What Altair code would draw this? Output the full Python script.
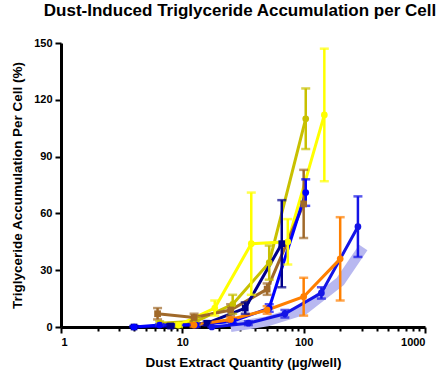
import altair as alt
import pandas as pd

# ---- data ----
names = ["olive", "yellow", "brown", "navy", "blue", "blue2", "orange"]
colors = ["#C8C000", "#FFFF00", "#A0692A", "#00008B", "#0000FF", "#1414E6", "#FF7F00"]
shapes = ["circle", "circle", "square", "square", "circle", "circle", "circle"]

olive_x = [6.5, 13, 26, 52, 104]
olive_y = [2, 3, 12, 34, 110]
olive_e = [1, 2, 5, 9, 16]

yellow_x = [9.3, 18.5, 37, 74, 148]
yellow_y = [1, 10, 44, 45, 112]
yellow_e = [1, 4, 27, 12, 35]

brown_x = [6.25, 12.5, 25, 50, 100]
brown_y = [7, 5, 9, 20, 65]
brown_e = [3, 2, 3, 3, 18]

navy_x = [4, 8, 16, 33, 66]
navy_y = [0, 0.5, 2, 10, 44]
navy_e = [0.5, 1, 1, 3, 23]

blue_x = [4, 6.5, 13, 26, 52, 104]
blue_y = [0, 1, 1, 3, 10, 71]
blue_e = [0.5, 0.5, 1, 1, 2, 7]

blue2_x = [17.5, 35, 70, 140, 280]
blue2_y = [0, 2, 7, 18, 53]
blue2_e = [0.5, 1, 2, 3, 16]

orange_x = [12.5, 25, 50, 100, 200]
orange_y = [1, 4, 9, 16, 36]
orange_e = [1, 1, 2, 10, 22]

lav_x = [25, 50, 100, 200, 310]
lav_y = [0, 3, 9, 24, 42]

x_major = [1, 10, 100, 1000]
x_minor = [2, 3, 4, 5, 6, 7, 8, 9, 20, 30, 40, 50, 60, 70, 80, 90,
           200, 300, 400, 500, 600, 700, 800, 900]
y_ticks = [0, 30, 60, 90, 120, 150]

series = {
    "olive": (olive_x, olive_y, olive_e),
    "yellow": (yellow_x, yellow_y, yellow_e),
    "brown": (brown_x, brown_y, brown_e),
    "navy": (navy_x, navy_y, navy_e),
    "blue": (blue_x, blue_y, blue_e),
    "blue2": (blue2_x, blue2_y, blue2_e),
    "orange": (orange_x, orange_y, orange_e),
}

rows = []
for i, n in enumerate(names):
    xs, ys, es = series[n]
    for k, (a, b, e) in enumerate(zip(xs, ys, es)):
        rows.append({"series": n, "order": i, "k": k, "x": a, "y": b,
                     "lo": max(0, b - e), "hi": b + e, "shape": shapes[i]})
df = pd.DataFrame(rows)
lav = pd.DataFrame({"x": lav_x, "y": lav_y})

FONT = "Liberation Sans"

xscale = alt.Scale(type="log", domain=[1, 1000], nice=False)
yscale = alt.Scale(domain=[0, 150], nice=False)
cscale = alt.Scale(domain=names, range=colors)

is_major = "indexof([1,10,100,1000], datum.value) >= 0"

xaxis = alt.Axis(
    values=x_major + x_minor,
    labelExpr=f"{is_major} ? datum.label : ''",
    format="d",
    tickSize=alt.condition(is_major, alt.value(6), alt.value(4)),
    title="Dust Extract Quantity (µg/well)",
    titlePadding=8,
    labelPadding=3,
    grid=False,
)
yaxis = alt.Axis(values=y_ticks, title="Triglyceride Accumulation Per Cell (%)",
                 tickSize=6, titlePadding=9, labelPadding=3, grid=False)

base = alt.Chart(df)

lav_line = alt.Chart(lav).mark_line(strokeWidth=10, color="#B8B8F0", strokeCap="butt").encode(
    x=alt.X("x:Q", scale=xscale, axis=xaxis),
    y=alt.Y("y:Q", scale=yscale, axis=yaxis),
)

lines = base.mark_line(strokeWidth=3).encode(
    x=alt.X("x:Q", scale=xscale),
    y=alt.Y("y:Q", scale=yscale),
    color=alt.Color("series:N", scale=cscale, legend=None),
    detail="series:N",
    order="k:Q",
)

rules = base.mark_rule(strokeWidth=2.5).encode(
    x="x:Q",
    y="lo:Q",
    y2="hi:Q",
    color=alt.Color("series:N", scale=cscale, legend=None),
)

cap_lo = base.mark_tick(orient="horizontal", size=9, thickness=2.5).encode(
    x="x:Q", y="lo:Q",
    color=alt.Color("series:N", scale=cscale, legend=None),
)
cap_hi = base.mark_tick(orient="horizontal", size=9, thickness=2.5).encode(
    x="x:Q", y="hi:Q",
    color=alt.Color("series:N", scale=cscale, legend=None),
)

points = base.mark_point(filled=True, size=45, opacity=1).encode(
    x="x:Q", y="y:Q",
    color=alt.Color("series:N", scale=cscale, legend=None),
    shape=alt.Shape("shape:N", scale=None, legend=None),
)

chart = alt.layer(lav_line, lines, rules, cap_lo, cap_hi, points).properties(
    width=364,
    height=284,
    background="white",
    padding={"left": 61, "top": 43, "right": 17, "bottom": 47},
    autosize=alt.AutoSizeParams(type="none"),
    title=alt.TitleParams(
        "Dust-Induced Triglyceride Accumulation per Cell",
        font=FONT, fontSize=17, fontWeight="bold", color="black",
        anchor="middle", frame="group", offset=17, dx=-3,
    ),
).configure_view(stroke=None).configure_axis(
    domainColor="black", domainWidth=3, tickColor="black", tickWidth=2,
    labelFont=FONT, labelFontSize=11, labelFontWeight="bold", labelColor="black",
    titleFont=FONT, titleFontSize=13.5, titleFontWeight="bold", titleColor="black",
    grid=False,
)

chart.save("out.html", embed_options={"renderer": "svg", "actions": False})
